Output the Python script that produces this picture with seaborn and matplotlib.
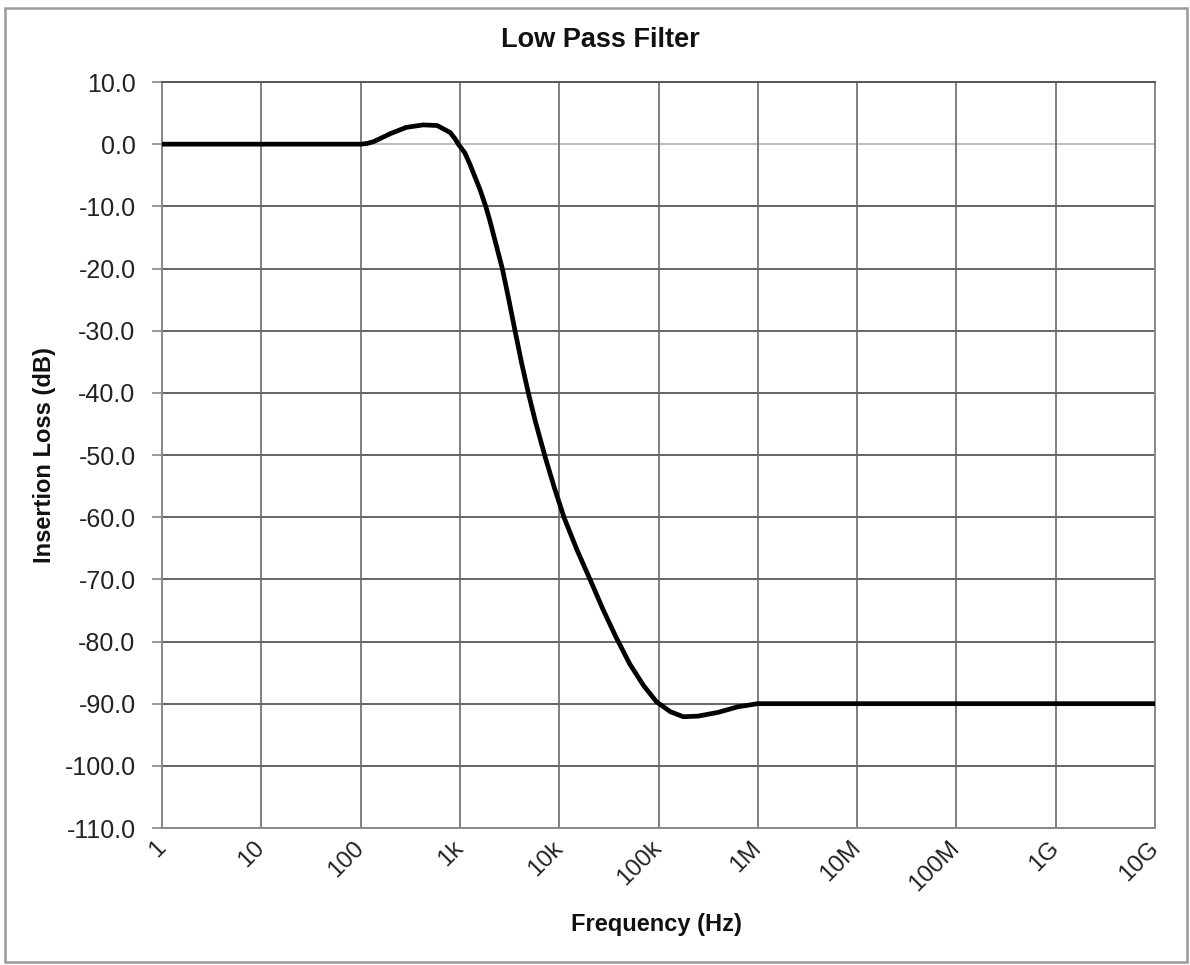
import matplotlib
matplotlib.use("Agg")
import matplotlib.pyplot as plt
import matplotlib.patches as mpatches
import seaborn as sns
import pandas as pd

# ---- data ----
freq_hz = [1, 10, 100, 115, 135, 200, 288, 427, 589, 794, 891, 964, 1122, 1259,
           1585, 1820, 1995, 2673, 3090, 3589, 4169, 4887, 5754, 7244, 8913,
           11220, 15136, 20417, 27542, 37325, 51286, 70795, 95499, 131826,
           177828, 251189, 398107, 630957, 1e6, 1e7, 1e8, 1e9, 1e10]
loss_db = [0.0, 0.0, 0.0, 0.1, 0.4, 1.7, 2.7, 3.1, 3.0, 1.9, 0.9, 0.0, -1.4, -3.2,
           -7.2, -10.0, -12.2, -20.0, -24.8, -30.0, -35.1, -40.0, -44.6, -50.4,
           -55.2, -60.1, -65.3, -70.0, -74.8, -79.3, -83.6, -87.1, -89.7, -91.3,
           -92.1, -92.0, -91.4, -90.5, -90.0, -90.0, -90.0, -90.0, -90.0]
x_ticks = [1, 10, 100, 1e3, 1e4, 1e5, 1e6, 1e7, 1e8, 1e9, 1e10]
x_tick_labels = ["1", "10", "100", "1k", "10k", "100k", "1M", "10M", "100M", "1G", "10G"]
y_ticks = list(range(-110, 11, 10))

df = pd.DataFrame({"Frequency (Hz)": freq_hz, "Insertion Loss (dB)": loss_db})

sns.set_style("white")
plt.rcParams["font.family"] = ["Liberation Sans", "DejaVu Sans"]

W, H = 1190, 965
fig = plt.figure(figsize=(W / 100, H / 100), dpi=100)
ax = fig.add_axes([162 / W, 1 - 828 / H, (1155 - 162) / W, (828 - 82) / H])

# grid lines
for yv in y_ticks:
    if yv == 0:
        ax.axhline(yv, color="#b4b4b4", lw=1.2, zorder=1)
    elif yv not in (-110, 10):
        ax.axhline(yv, color="#4a4a4a", lw=1.2, zorder=1)
for xv in x_ticks[1:-1]:
    ax.axvline(xv, color="#6a6a6a", lw=1.2, zorder=1)

sns.lineplot(data=df, x="Frequency (Hz)", y="Insertion Loss (dB)", ax=ax,
             color="black", lw=3.4, zorder=3, sort=False,
             solid_joinstyle="round", solid_capstyle="round")

ax.set_xscale("log")
ax.set_xlim(1, 1e10)
ax.set_ylim(-110, 10)
ax.set_xticks(x_ticks)
ax.set_xticklabels(x_tick_labels)
ax.minorticks_off()
ax.set_yticks(y_ticks)
ax.set_yticklabels([f"{v:.1f}" for v in y_ticks])
ax.set_xlabel("")
ax.set_ylabel("")

ax.tick_params(axis="y", length=7, width=1.2, color="#888888", direction="out",
               labelsize=18, labelcolor="#222222", pad=12, left=True)
ax.tick_params(axis="x", length=0, labelsize=17.5, labelcolor="#222222", pad=12)
for lab in ax.get_xticklabels():
    lab.set_rotation(45)
    lab.set_ha("right")
    lab.set_va("center")
    lab.set_rotation_mode("anchor")

for side, col in [("left", "#888888"), ("bottom", "#888888"),
                  ("top", "#555555"), ("right", "#888888")]:
    ax.spines[side].set_visible(True)
    ax.spines[side].set_color(col)
    ax.spines[side].set_linewidth(1.4)

fig.text(600 / W, 1 - 40 / H, "Low Pass Filter", ha="center", va="center",
         fontsize=19.5, fontweight="bold", color="#111111")
fig.text(656 / W, 1 - 925 / H, "Frequency (Hz)", ha="center", va="center",
         fontsize=17, fontweight="bold", color="#111111")
fig.text(45 / W, 1 - 455 / H, "Insertion Loss (dB)", ha="center", va="center",
         rotation=90, fontsize=17, fontweight="bold", color="#111111")

border = mpatches.Rectangle((5 / W, 1 - 962 / H), (1187 - 5) / W, (962 - 8) / H,
                            transform=fig.transFigure, fill=False,
                            edgecolor="#9a9a9a", lw=1.8)
fig.patches.append(border)

fig.savefig("out.png", dpi=100)
